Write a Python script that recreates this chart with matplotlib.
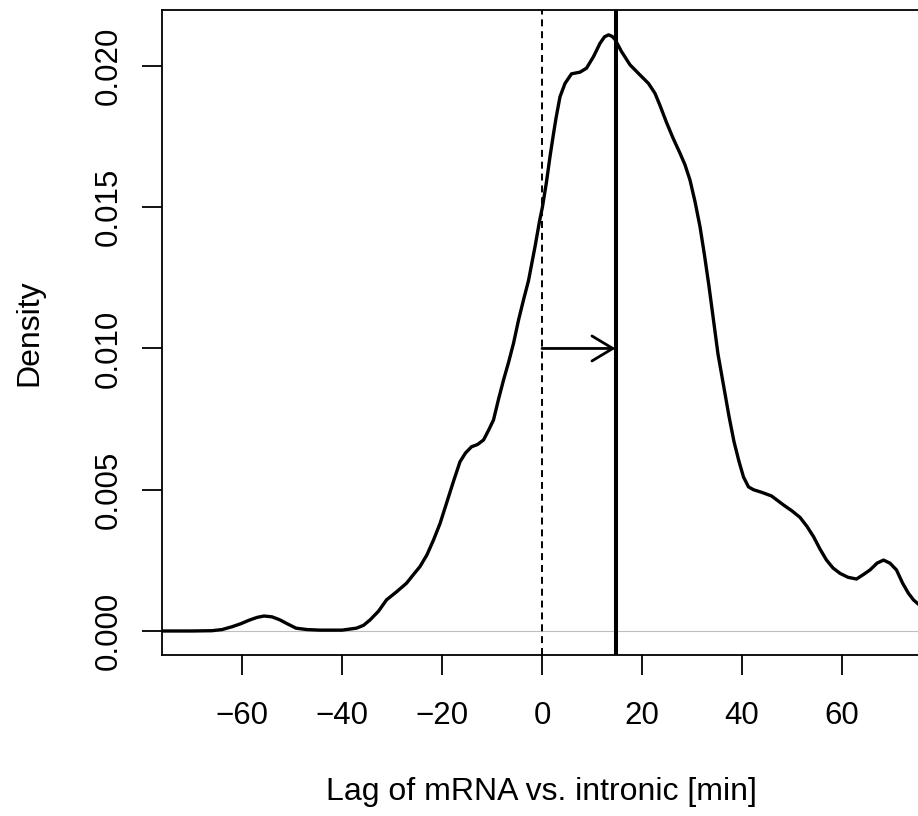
import numpy as np
import matplotlib
matplotlib.use('Agg')
import matplotlib.pyplot as plt

plt.rcParams['font.family'] = ['Liberation Sans', 'DejaVu Sans']

# density curve (lag in min, density)
lag = [-76, -70, -66, -64, -62, -60.2, -58.6, -57, -55.6, -54, -52.5, -51,
       -49.2, -47, -44.4, -40, -37.1, -35.7, -34.4, -32.7, -31.1, -29, -27.1,
       -25.7, -24.4, -23, -21.7, -20.4, -19.1, -17.7, -16.4, -15.3, -14.1,
       -12.9, -11.7, -10.7, -9.7, -8.7, -7.7, -6.7, -5.7, -4.7, -3.7, -2.7,
       -1.4, -0.5, 0.1, 0.9, 1.6, 2.3, 2.8, 3.6, 4.6, 5.9, 7.6, 8.9, 10.3,
       11.6, 12.5, 13.3, 14.0, 14.6, 15.9, 17.6, 19.6, 21.3, 22.6, 23.6, 24.9,
       26.2, 27.6, 28.6, 29.6, 30.6, 31.6, 32.5, 33.4, 34.3, 35.2, 36.3, 37.4,
       38.4, 39.4, 40.3, 41.3, 42.3, 43.9, 45.9, 48.3, 50.0, 51.6, 53.0, 54.3,
       55.6, 56.9, 58.2, 59.6, 61.2, 62.9, 64.3, 65.6, 67.0, 68.3, 69.6, 70.9,
       72.1, 73.3, 74.3, 75.6]
dens = [0.0, 0.0, 0.00001, 0.00005, 0.00015, 0.00026, 0.00038, 0.00048,
        0.00053, 0.0005, 0.0004, 0.00026, 0.0001, 0.00005, 0.00003, 0.00003,
        0.0001, 0.0002, 0.00039, 0.0007, 0.0011, 0.0014, 0.00169, 0.0020,
        0.00228, 0.0027, 0.00322, 0.0038, 0.00452, 0.0053, 0.00599, 0.0063,
        0.00652, 0.0066, 0.00676, 0.0071, 0.00747, 0.0082, 0.00888, 0.0095,
        0.01018, 0.0110, 0.01172, 0.0124, 0.0136, 0.0145, 0.01502, 0.0159,
        0.01679, 0.0176, 0.01815, 0.01891, 0.01938, 0.01972, 0.01978, 0.01992,
        0.02033, 0.0208, 0.02103, 0.0211, 0.02105, 0.02094, 0.02051, 0.02004,
        0.01968, 0.01938, 0.01903, 0.0186, 0.0180, 0.01745, 0.01691, 0.0165,
        0.01596, 0.0152, 0.01431, 0.0133, 0.0122, 0.0110, 0.0098, 0.0087,
        0.0076, 0.0067, 0.0060, 0.00545, 0.0051, 0.0050, 0.00491, 0.00478,
        0.00446, 0.00425, 0.00402, 0.0037, 0.00334, 0.0029, 0.00251, 0.00223,
        0.00204, 0.0019, 0.00184, 0.0020, 0.00216, 0.0024, 0.00251, 0.0024,
        0.00216, 0.0017, 0.00133, 0.0011, 0.0009]

median_lag = 14.7
arrow_y = 0.010
xticks = [-60, -40, -20, 0, 20, 40, 60]
yticks = [0.000, 0.005, 0.010, 0.015, 0.020]

W, H = 918, 816
fig = plt.figure(figsize=(W / 100, H / 100), dpi=100)
ax = fig.add_axes([162 / W, 161 / H, (920 - 162) / W, 645 / H])

ax.axhline(0, color='#bebebe', lw=0.8, zorder=1)
ax.plot(lag, dens, color='black', lw=2.4, solid_joinstyle='round', zorder=3)
ax.axvline(0, color='black', lw=1.4, linestyle=(0, (3.6, 2.5)), zorder=2)
ax.axvline(median_lag, color='black', lw=2.9, zorder=2)
ax.annotate('', xy=(median_lag, arrow_y), xytext=(0, arrow_y),
            arrowprops=dict(arrowstyle='->,head_length=1.5,head_width=0.9',
                            lw=2.0, color='black', shrinkA=0, shrinkB=0))

ax.set_xlim(-76, 75.6)
ax.set_ylim(-0.00085, 0.02198)
ax.set_xticks(xticks)
ax.set_xticklabels(['\u2212' + str(-t) if t < 0 else str(t) for t in xticks])
ax.set_yticks(yticks)
ax.set_yticklabels(['%.3f' % t for t in yticks])

for s in ax.spines.values():
    s.set_linewidth(1.3)
ax.tick_params(direction='out', length=14.4, width=1.3, labelsize=22.5)
ax.tick_params(axis='x', pad=19)
ax.tick_params(axis='y', pad=13, labelrotation=90)
for lab in ax.get_yticklabels():
    lab.set_va('center')

ax.set_xlabel('Lag of mRNA vs. intronic [min]', fontsize=23, labelpad=33)
ax.set_ylabel('Density', fontsize=23, labelpad=36)

fig.savefig('out.png', dpi=100)
